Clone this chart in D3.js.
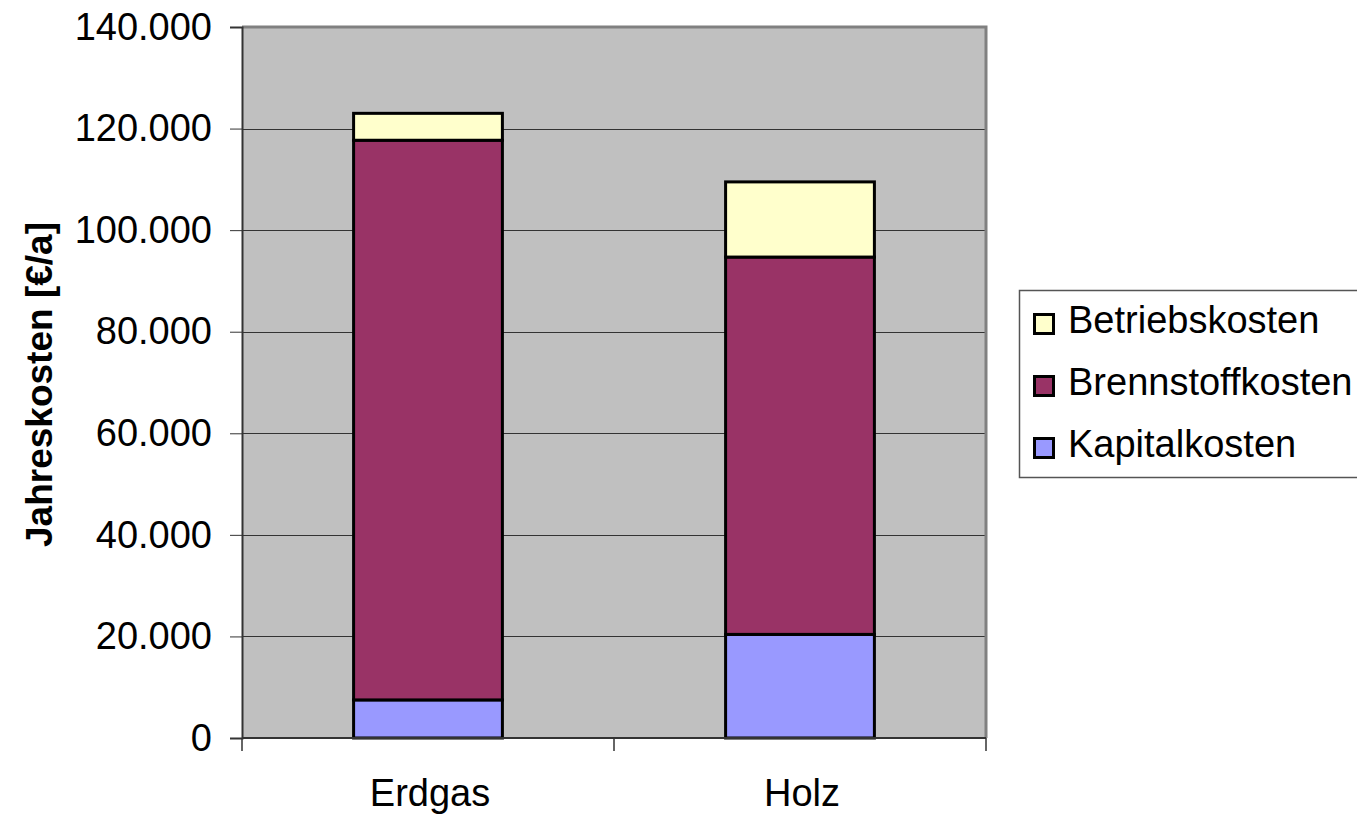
<!DOCTYPE html>
<html lang="de">

<head>
  <meta charset="UTF-8">
  <title>Jahreskosten</title>
  <script src="https://d3js.org/d3.v7.min.js"></script>
  <style>
    body {
      margin: 0;
      background: #fff;
      font-family: "Liberation Sans", Arial, sans-serif;
    }

    .tick-label {
      font-size: 38px;
      fill: #000;
    }

    .axis-title {
      font-size: 37px;
      font-weight: bold;
      fill: #000;
    }
  </style>
</head>

<body>
  <div id="chart"></div>

  <script>
    // data
    const categories = ["Erdgas", "Holz"];
    const seriesNames = ["Kapitalkosten", "Brennstoffkosten", "Betriebskosten"];
    const kapitalkosten = [7500, 20400];
    const brennstoffkosten = [110200, 74300];
    const betriebskosten = [5300, 14800];
    const yTicks = [0, 20000, 40000, 60000, 80000, 100000, 120000, 140000];

    const colors = ["#9999ff", "#993366", "#ffffcc"];

    const W = 1357, H = 814;
    const plot = { left: 242, right: 986, top: 27, bottom: 738 };

    const svg = d3.select("#chart").append("svg")
      .attr("width", W)
      .attr("height", H);

    const rows = categories.map((c, i) => ({
      cat: c,
      Kapitalkosten: kapitalkosten[i],
      Brennstoffkosten: brennstoffkosten[i],
      Betriebskosten: betriebskosten[i]
    }));

    const stacked = d3.stack().keys(seriesNames)(rows);

    const x = d3.scaleBand()
      .domain(categories)
      .range([plot.left, plot.right])
      .paddingInner(0.6)
      .paddingOuter(0.3);

    const xBounds = d3.scaleBand()
      .domain(categories)
      .range([plot.left, plot.right]);

    const y = d3.scaleLinear()
      .domain([0, 140000])
      .range([plot.bottom, plot.top]);

    // plot background
    svg.append("rect")
      .attr("x", plot.left)
      .attr("y", plot.top)
      .attr("width", plot.right - plot.left)
      .attr("height", plot.bottom - plot.top)
      .attr("fill", "#c0c0c0");

    // gridlines
    svg.append("g")
      .selectAll("line")
      .data(yTicks.filter(d => d > 0 && d < 140000))
      .enter().append("line")
      .attr("x1", plot.left)
      .attr("x2", plot.right)
      .attr("y1", d => Math.round(y(d)) + 0.5)
      .attr("y2", d => Math.round(y(d)) + 0.5)
      .attr("stroke", "#333")
      .attr("stroke-width", 1);

    // frame top / right
    svg.append("path")
      .attr("d", `M${plot.left},${plot.top} H${plot.right} V${plot.bottom}`)
      .attr("fill", "none")
      .attr("stroke", "#808080")
      .attr("stroke-width", 3);

    // bars
    svg.append("g")
      .selectAll("g")
      .data(stacked)
      .enter().append("g")
      .attr("fill", (d, i) => colors[i])
      .selectAll("rect")
      .data(d => d)
      .enter().append("rect")
      .attr("x", d => x(d.data.cat))
      .attr("y", d => y(d[1]))
      .attr("width", x.bandwidth())
      .attr("height", d => y(d[0]) - y(d[1]))
      .attr("stroke", "#000")
      .attr("stroke-width", 3);

    // y axis
    const yAxis = svg.append("g")
      .attr("transform", `translate(${plot.left},0)`)
      .call(d3.axisLeft(y)
        .tickValues(yTicks)
        .tickSize(12)
        .tickPadding(18)
        .tickFormat(d => d3.format(",")(d).replace(/,/g, ".")));
    yAxis.select(".domain").attr("stroke", "#333").attr("stroke-width", 2);
    yAxis.selectAll(".tick line").attr("stroke", "#333");
    yAxis.selectAll("text").attr("class", "tick-label").attr("font-family", null).attr("font-size", null);

    // x axis with ticks at category boundaries
    const xAxis = svg.append("g")
      .attr("transform", `translate(0,${plot.bottom})`);
    xAxis.append("line")
      .attr("x1", plot.left)
      .attr("x2", plot.right)
      .attr("stroke", "#333")
      .attr("stroke-width", 2);
    const bounds = categories.map(c => xBounds(c)).concat([plot.right]);
    xAxis.selectAll(".bt")
      .data(bounds)
      .enter().append("line")
      .attr("x1", d => d)
      .attr("x2", d => d)
      .attr("y1", 0)
      .attr("y2", 13)
      .attr("stroke", "#333")
      .attr("stroke-width", 1.5);
    xAxis.selectAll(".cl")
      .data(categories)
      .enter().append("text")
      .attr("class", "tick-label")
      .attr("x", d => x(d) + x.bandwidth() / 2 + 2)
      .attr("y", 68)
      .attr("text-anchor", "middle")
      .text(d => d);

    // y title
    svg.append("text")
      .attr("class", "axis-title")
      .attr("transform", `translate(52,${(plot.top + plot.bottom) / 2 + 2}) rotate(-90)`)
      .attr("text-anchor", "middle")
      .text("Jahreskosten [€/a]");

    // legend
    const legend = svg.append("g");
    legend.append("rect")
      .attr("x", 1019.5)
      .attr("y", 290.5)
      .attr("width", 340)
      .attr("height", 187)
      .attr("fill", "#fff")
      .attr("stroke", "#555")
      .attr("stroke-width", 1.5);

    const legendOrder = seriesNames.map((n, i) => ({ name: n, color: colors[i] })).reverse();
    const item = legend.selectAll(".item")
      .data(legendOrder)
      .enter().append("g")
      .attr("transform", (d, i) => `translate(1033,${313 + i * 62})`);
    item.append("rect")
      .attr("x", 1.5)
      .attr("y", 1.5)
      .attr("width", 19)
      .attr("height", 19)
      .attr("fill", d => d.color)
      .attr("stroke", "#000")
      .attr("stroke-width", 3);
    item.append("text")
      .attr("class", "tick-label")
      .attr("x", 35)
      .attr("y", 20)
      .text(d => d.name);
  </script>
</body>

</html>
